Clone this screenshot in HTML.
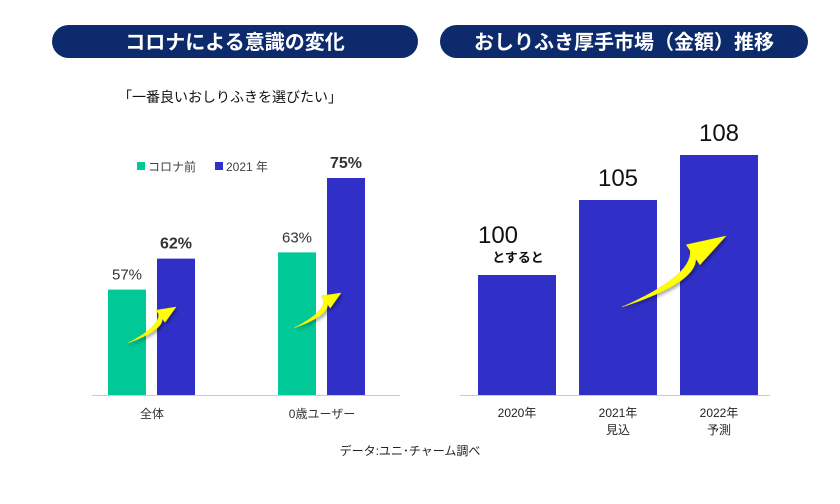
<!DOCTYPE html>
<html><head><meta charset="utf-8">
<style>
body{margin:0;background:#fff;width:840px;height:504px;overflow:hidden;font-family:"Liberation Sans","Noto Sans CJK JP",sans-serif}
svg{display:block}
</style></head><body>
<svg id="c" width="840" height="504" xmlns="http://www.w3.org/2000/svg">
<defs>
<filter id="sh" x="-30%" y="-30%" width="160%" height="160%"><feDropShadow dx="2" dy="2" stdDeviation="1.5" flood-color="#000" flood-opacity="0.35"/></filter>
</defs>
<rect x="52" y="25" width="366" height="33" rx="16.5" fill="#0c2a6c"/>
<text x="235" y="49" text-anchor="middle" font-size="20" font-weight="bold" fill="#fff">コロナによる意識の変化</text>
<rect x="440" y="25" width="368" height="33" rx="16.5" fill="#0c2a6c"/>
<text x="624" y="49" text-anchor="middle" font-size="20" font-weight="bold" fill="#fff">おしりふき厚手市場（金額）推移</text>
<text x="230" y="102" text-anchor="middle" font-size="14" fill="#111">「一番良いおしりふきを選びたい」</text>
<rect x="137" y="162" width="8" height="8" fill="#00c896"/>
<text x="148" y="171" font-size="12" fill="#444">コロナ前</text>
<rect x="215" y="162" width="8" height="8" fill="#3030c8"/>
<text x="226" y="171" font-size="12" fill="#444">2021 年</text>
<g id="left"></g>
<g id="right"></g>
<text x="410" y="455" text-anchor="middle" font-size="12" fill="#222">データ:ユニ･チャーム調べ</text>
</svg>
<script>
const NS='http://www.w3.org/2000/svg';
const leftCats=['全体','0歳ユーザー'];
const beforeVals=[57,63];
const after2021Vals=[62,75];
const rightCats=[['2020年'],['2021年','見込'],['2022年','予測']];
const marketVals=[100,105,108];

function mk(tag,attrs,parent,txt){const e=document.createElementNS(NS,tag);for(const k in attrs)e.setAttribute(k,attrs[k]);if(txt!=null)e.textContent=txt;parent.appendChild(e);return e;}
const base=395;
const yL=v=>base-6.2*(v-40);
const yR=v=>base-15*(v-92);
const L=document.getElementById('left'), R=document.getElementById('right');

let ax=mk('line',{x1:92,y1:base+0.5,x2:400,y2:base+0.5,stroke:'#ccc','stroke-width':1},L);


function arrow(parent,x0,y0,x1,y1,w,name){
  const dx=x1-x0,dy=y1-y0,len=Math.hypot(dx,dy);
  const ux=dx/len,uy=dy/len,nx=uy,ny=-ux; // n points "up-left" side
  const hl=len*0.3, hw=w*1.9;
  const bx=x1-ux*hl,by=y1-uy*hl;
  // control point bows downward (below straight line)
  const cx=x0+dx*0.6-nx*len*0.15, cy=y0+dy*0.6-ny*len*0.15;
  const d=`M${x0},${y0} Q${cx+nx*w*0.6},${cy+ny*w*0.6} ${bx+nx*w},${by+ny*w} L${bx+nx*hw},${by+ny*hw} L${x1},${y1} L${bx-nx*hw*0.6},${by-ny*hw*0.6} L${bx-nx*w*0.2},${by-ny*w*0.2} Q${cx-nx*w*0.4},${cy-ny*w*0.4} ${x0},${y0} Z`;
  const p=mk('path',{d:d,fill:'#ffff00',stroke:'#e6e600','stroke-width':0.5,filter:'url(#sh)'},parent);
  
  
}
leftCats.forEach((c,i)=>{
  const gx=108+i*170;
  let r=mk('rect',{x:gx,y:yL(beforeVals[i]),width:38,height:base-yL(beforeVals[i]),fill:'#00c896'},L);
  
  
  let t=mk('text',{x:gx+19,y:yL(beforeVals[i])-10,'text-anchor':'middle','font-size':15,fill:'#333'},L,beforeVals[i]+'%');
  
  
  r=mk('rect',{x:gx+49,y:yL(after2021Vals[i]),width:38,height:base-yL(after2021Vals[i]),fill:'#3030c8'},L);
  
  
  t=mk('text',{x:gx+68,y:yL(after2021Vals[i])-10,'text-anchor':'middle','font-size':16,'font-weight':'bold',fill:'#333'},L,after2021Vals[i]+'%');
  
  
  t=mk('text',{x:gx+44,y:base+23,'text-anchor':'middle','font-size':12,fill:'#333'},L,c);
  
  
});
arrow(L,128,343,176,307,5,'arrow-0');
arrow(L,294,328,341,293,5,'arrow-1');

ax=mk('line',{x1:460,y1:base+0.5,x2:770,y2:base+0.5,stroke:'#ccc','stroke-width':1},R);


marketVals.forEach((v,i)=>{
  const gx=478+i*101;
  const r=mk('rect',{x:gx,y:yR(v),width:78,height:base-yR(v),fill:'#3030c8'},R);
  
  
  let ty=i===0?yR(v)-32:yR(v)-14;
  const t=mk('text',{x:gx+(i===0?20:39),y:ty,'text-anchor':'middle','font-size':24,fill:'#111'},R,String(v));
  
  
  rightCats[i].forEach((s,j)=>{
    const c=mk('text',{x:gx+39,y:base+22+j*17,'text-anchor':'middle','font-size':12,fill:'#222'},R,s);
    
    
  });
});
const t2=mk('text',{x:518,y:yR(marketVals[0])-13,'text-anchor':'middle','font-size':13,'font-weight':'bold',fill:'#111'},R,'とすると');


arrow(R,622,307,726,236,8,'arrow-market');
</script>
</body></html>
